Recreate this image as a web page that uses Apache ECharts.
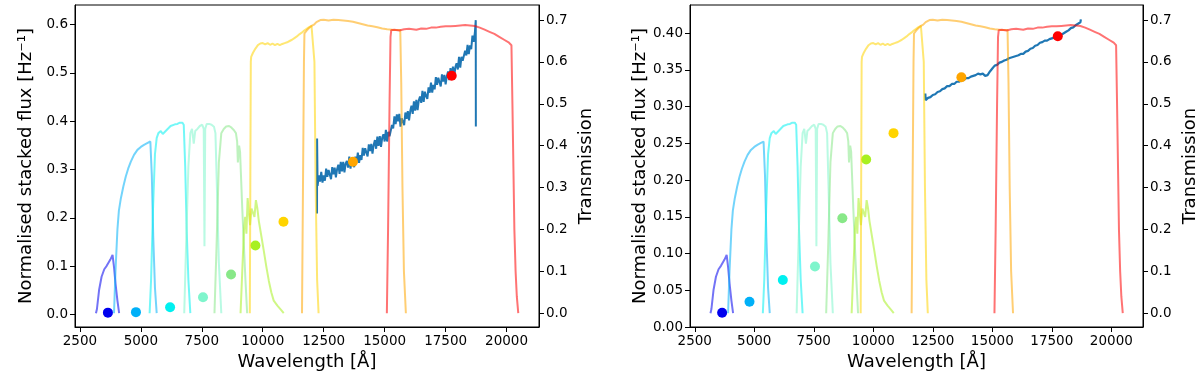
<!DOCTYPE html>
<html>
<head>
<meta charset="utf-8">
<script src="https://cdn.jsdelivr.net/npm/echarts@6.0.0/dist/echarts.min.js"></script>
<style>
html,body{margin:0;padding:0;background:#fff;}
#main{width:1200px;height:376px;}
</style>
</head>
<body>
<div id="main"></div>
<script>
// 滤光片透过率曲线 [波长, 透过率]
var uCurve = [[3160,0.0],[3200,0.01],[3290,0.056],[3390,0.087],[3500,0.105],[3600,0.113],[3660,0.119],[3750,0.128],[3840,0.139],[3900,0.11],[3960,0.072],[4040,0.03],[4110,0.0]];
var gCurve = [[3900,0.0],[3960,0.1],[4040,0.2],[4100,0.245],[4180,0.274],[4280,0.302],[4380,0.326],[4480,0.345],[4590,0.362],[4720,0.378],[4860,0.39],[5000,0.397],[5130,0.402],[5260,0.406],[5390,0.41],[5450,0.33],[5510,0.18],[5580,0.06],[5650,0.0]];
var rCurve = [[5360,0.0],[5420,0.08],[5500,0.25],[5580,0.38],[5650,0.418],[5720,0.43],[5820,0.435],[5900,0.428],[5980,0.425],[6100,0.44],[6220,0.447],[6300,0.448],[6400,0.451],[6500,0.452],[6600,0.455],[6700,0.455],[6760,0.45],[6820,0.35],[6880,0.2],[6950,0.08],[7030,0.0]];
var iCurve = [[6780,0.0],[6850,0.15],[6950,0.35],[7030,0.43],[7100,0.44],[7170,0.405],[7230,0.435],[7320,0.44],[7420,0.447],[7520,0.45],[7580,0.44],[7610,0.16],[7640,0.44],[7700,0.452],[7800,0.452],[7900,0.45],[8000,0.445],[8060,0.43],[8120,0.3],[8200,0.12],[8300,0.0]];
var zCurve = [[8020,0.0],[8100,0.15],[8200,0.36],[8300,0.43],[8400,0.44],[8500,0.446],[8620,0.447],[8720,0.443],[8820,0.437],[8900,0.43],[8950,0.41],[8980,0.36],[9030,0.4],[9070,0.385],[9100,0.34],[9160,0.25],[9220,0.17],[9290,0.08],[9360,0.0]];
var yCurve = [[9090,0.0],[9160,0.1],[9230,0.2],[9280,0.23],[9330,0.19],[9380,0.275],[9430,0.24],[9480,0.21],[9540,0.25],[9600,0.24],[9660,0.23],[9720,0.27],[9780,0.25],[9840,0.22],[9940,0.185],[10040,0.15],[10150,0.11],[10250,0.077],[10350,0.05],[10450,0.03],[10600,0.018],[10750,0.008],[10860,0.0]];
var yeCurve = [[9470,0.0],[9490,0.3],[9510,0.6],[9525,0.612],[9600,0.622],[9700,0.632],[9800,0.64],[9900,0.644],[10000,0.645],[10100,0.642],[10200,0.645],[10300,0.641],[10400,0.644],[10500,0.64],[10600,0.643],[10700,0.64],[10800,0.643],[10900,0.645],[11000,0.647],[11100,0.65],[11200,0.653],[11300,0.657],[11400,0.661],[11500,0.666],[11600,0.67],[11700,0.675],[11800,0.679],[11900,0.683],[12000,0.686],[12080,0.688],[12120,0.6],[12170,0.3],[12230,0.08],[12290,0.0]];
var jeCurve = [[11610,0.0],[11650,0.3],[11690,0.6],[11710,0.668],[11800,0.675],[11900,0.681],[12000,0.686],[12100,0.689],[12200,0.695],[12360,0.7],[12500,0.701],[12700,0.699],[12900,0.701],[13100,0.7],[13300,0.699],[13500,0.698],[13700,0.696],[13900,0.693],[14100,0.69],[14300,0.687],[14500,0.685],[14700,0.683],[14900,0.68],[15100,0.678],[15300,0.677],[15500,0.676],[15640,0.676],[15680,0.55],[15730,0.3],[15790,0.1],[15870,0.0]];
var heCurve = [[15090,0.0],[15140,0.2],[15200,0.5],[15240,0.66],[15270,0.676],[15400,0.677],[15600,0.675],[15800,0.678],[16000,0.679],[16300,0.677],[16500,0.68],[16700,0.679],[16900,0.682],[17100,0.682],[17300,0.684],[17500,0.685],[17700,0.685],[17900,0.686],[18100,0.687],[18300,0.688],[18500,0.687],[18700,0.686],[18900,0.682],[19100,0.677],[19300,0.672],[19500,0.667],[19700,0.66],[19900,0.653],[20100,0.646],[20200,0.64],[20240,0.5],[20280,0.35],[20320,0.2],[20370,0.1],[20420,0.04],[20480,0.0]];

// 测光点
var pointLam = [3650, 4800, 6200, 7550, 8700, 9700, 10850, 13700, 17750];
var pointFluxA = [0.004, 0.005, 0.015, 0.036, 0.083, 0.143, 0.192, 0.316, 0.494];
var pointFluxB = [0.0195, 0.0345, 0.064, 0.0825, 0.148, 0.228, 0.264, 0.340, 0.396];

// 光谱 A：从 12250 起每 50 Å 一个点
var specAStart = 12250, specAStep = 50;
var specAHead = [[12226, 0.209], [12229, 0.364]];
var specAFlux = [
    0.266,0.288,0.275,0.295,0.273,0.288,0.277,0.302,0.285,0.299,
    0.296,0.280,0.305,0.290,0.304,0.284,0.301,0.310,0.291,0.316,
    0.296,0.316,0.294,0.312,0.318,0.304,0.327,0.302,0.322,0.311,
    0.305,0.327,0.315,0.335,0.314,0.330,0.320,0.345,0.329,0.344,
    0.342,0.327,0.352,0.338,0.353,0.333,0.351,0.361,0.343,0.368,
    0.349,0.369,0.347,0.366,0.373,0.358,0.382,0.358,0.378,0.369,
    0.365,0.392,0.385,0.410,0.394,0.414,0.400,0.415,0.389,0.406,
    0.406,0.392,0.418,0.405,0.421,0.402,0.421,0.432,0.415,0.441,
    0.422,0.444,0.423,0.443,0.451,0.438,0.463,0.440,0.461,0.452,
    0.446,0.470,0.459,0.480,0.459,0.475,0.466,0.491,0.475,0.490,
    0.488,0.472,0.497,0.482,0.496,0.476,0.493,0.503,0.485,0.510,
    0.491,0.513,0.492,0.512,0.520,0.507,0.533,0.511,0.533,0.525,
    0.521,0.546,0.536,0.558,0.539,0.557,0.549,0.577,0.564,0.583
];
var specATail = [[18736, 0.609], [18740, 0.389]];

// 光谱 B：从 12200 起每 100 Å 一个点
var specBStart = 12200, specBStep = 100;
var specBHead = [[12185, 0.318]];
var specBFlux = [
    0.309,0.312,0.313,0.316,0.317,0.320,0.321,0.324,0.325,0.328,
    0.328,0.331,0.331,0.334,0.334,0.336,0.336,0.339,0.339,0.341,
    0.342,0.343,0.345,0.344,0.345,0.342,0.343,0.348,0.352,0.356,
    0.357,0.360,0.361,0.363,0.364,0.366,0.367,0.368,0.369,0.370,
    0.372,0.372,0.375,0.376,0.379,0.380,0.383,0.384,0.387,0.388,
    0.390,0.390,0.392,0.393,0.394,0.396,0.397,0.398,0.400,0.402,
    0.404,0.407,0.408,0.411,0.413,0.415
];
var specBTail = [[18720, 0.419]];

// 刻度
var xTicks = [2500, 5000, 7500, 10000, 12500, 15000, 17500, 20000];
var fluxTicksA = [0, 0.1, 0.2, 0.3, 0.4, 0.5, 0.6];
var fluxTicksB = [0, 0.05, 0.1, 0.15, 0.2, 0.25, 0.3, 0.35, 0.4];
var transTicks = [0, 0.1, 0.2, 0.3, 0.4, 0.5, 0.6, 0.7];

var curves = [uCurve, gCurve, rCurve, iCurve, zCurve, yCurve, yeCurve, jeCurve, heCurve];
var colors = ['#0000ee', '#00b0f8', '#00f0f0', '#7ff5cc', '#88e888', '#a8f020', '#ffd400', '#ffa500', '#ff0000'];
var font = 'DejaVu Sans';

function buildSpec(head, start, step, flux, tail) {
    var out = head.slice();
    for (var i = 0; i < flux.length; i++) {
        out.push([start + i * step, flux[i]]);
    }
    return out.concat(tail);
}

function xAxisOf(gi) {
    return {
        type: 'value', gridIndex: gi, min: 2300, max: 21330,
        name: 'Wavelength [Å]', nameLocation: 'middle', nameGap: 25,
        nameTextStyle: {fontSize: 18, color: '#000', fontFamily: font},
        axisLine: {show: true, onZero: false, lineStyle: {color: '#000', width: 1}},
        axisTick: {show: true, length: 5, customValues: xTicks, lineStyle: {color: '#000'}},
        axisLabel: {
            customValues: xTicks, fontSize: 13.5, color: '#000', margin: 7, fontFamily: font,
            formatter: function (v) { return String(v); }
        },
        splitLine: {show: false}
    };
}

function yAxisOf(gi, pos, min, max, ticks, name, digits) {
    return {
        type: 'value', gridIndex: gi, position: pos, min: min, max: max,
        name: name, nameLocation: 'middle', nameGap: pos === 'left' ? 40 : 38,
        nameTextStyle: {fontSize: 18, color: '#000', fontFamily: font},
        axisLine: {show: true, onZero: false, lineStyle: {color: '#000', width: 1}},
        axisTick: {show: true, length: 5, customValues: ticks, lineStyle: {color: '#000'}},
        axisLabel: {
            customValues: ticks, fontSize: 13.5, color: '#000', margin: 7, fontFamily: font,
            formatter: function (v) { return v.toFixed(digits); }
        },
        splitLine: {show: false}
    };
}

var myChart = echarts.init(document.getElementById('main'));

var series = [];
var spectra = [
    buildSpec(specAHead, specAStart, specAStep, specAFlux, specATail),
    buildSpec(specBHead, specBStart, specBStep, specBFlux, specBTail)
];
var fluxes = [pointFluxA, pointFluxB];

for (var g = 0; g < 2; g++) {
    // 光谱
    series.push({
        type: 'line', xAxisIndex: g, yAxisIndex: g * 2, data: spectra[g],
        showSymbol: false, z: 2,
        lineStyle: {color: '#1f77b4', width: g === 0 ? 2 : 2.2}
    });
    // 测光点
    var pts = [];
    for (var k = 0; k < pointLam.length; k++) {
        pts.push({value: [pointLam[k], fluxes[g][k]], itemStyle: {color: colors[k], opacity: 1}});
    }
    series.push({
        type: 'scatter', xAxisIndex: g, yAxisIndex: g * 2, data: pts,
        symbolSize: 10, z: 3, itemStyle: {opacity: 1}
    });
    // 滤光片
    for (var f = 0; f < curves.length; f++) {
        series.push({
            type: 'line', xAxisIndex: g, yAxisIndex: g * 2 + 1, data: curves[f],
            showSymbol: false, z: 4,
            lineStyle: {color: colors[f], width: 2, opacity: 0.55}
        });
    }
}

var option = {
    animation: false,
    backgroundColor: '#fff',
    grid: [
        {left: 75, top: 5, width: 464, height: 322, show: true, borderColor: '#000', borderWidth: 1},
        {left: 690, top: 5, width: 456, height: 322, show: true, borderColor: '#000', borderWidth: 1}
    ],
    xAxis: [xAxisOf(0), xAxisOf(1)],
    yAxis: [
        yAxisOf(0, 'left', -0.0257, 0.6404, fluxTicksA, 'Normalised stacked flux [Hz⁻¹]', 1),
        yAxisOf(0, 'right', -0.033, 0.736, transTicks, 'Transmission', 1),
        yAxisOf(1, 'left', 0, 0.4385, fluxTicksB, 'Normalised stacked flux [Hz⁻¹]', 2),
        yAxisOf(1, 'right', -0.033, 0.736, transTicks, 'Transmission', 1)
    ],
    series: series
};

myChart.setOption(option);
</script>
</body>
</html>
